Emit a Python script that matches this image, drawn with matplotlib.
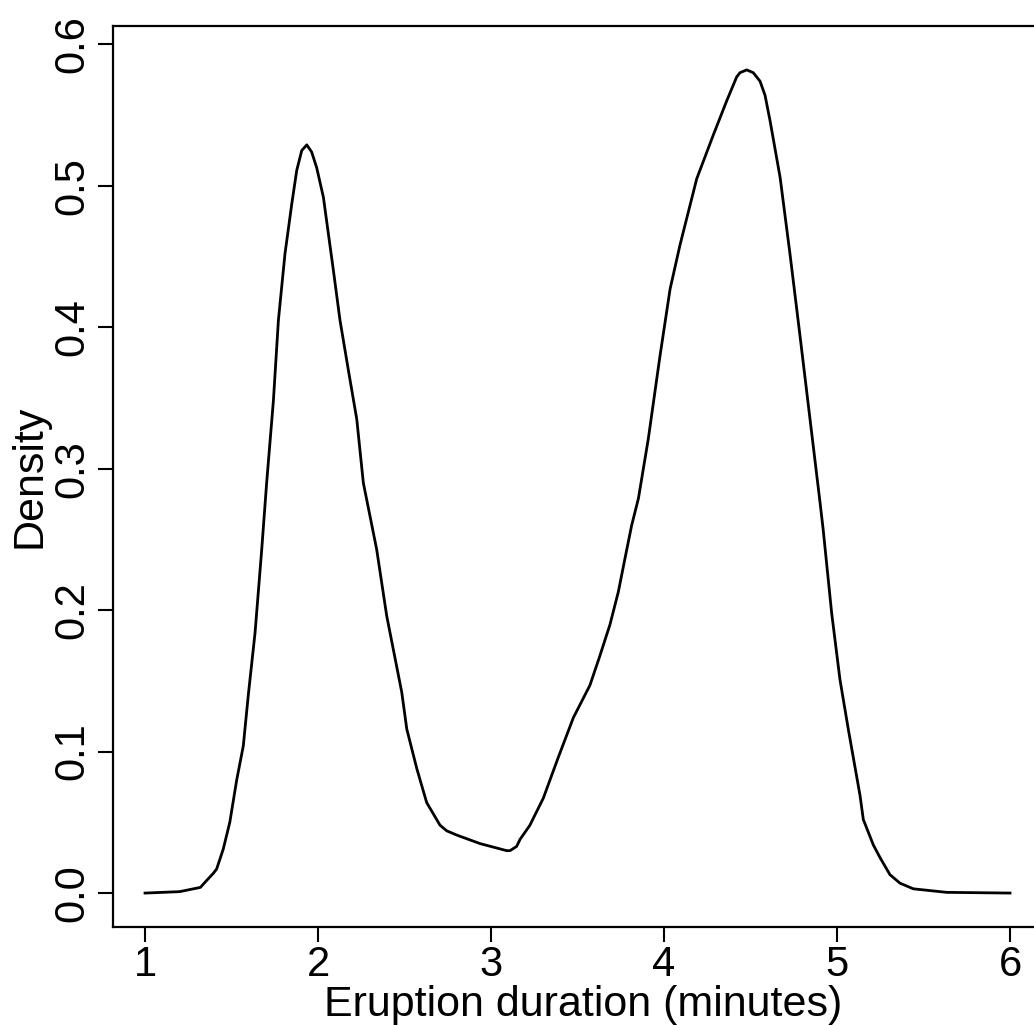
import matplotlib
matplotlib.use("Agg")
import matplotlib.pyplot as plt

# density curve (eruption duration in minutes, density)
duration = [1.0, 1.2, 1.32, 1.357, 1.395, 1.414, 1.452, 1.49, 1.53, 1.568, 1.597,
             1.636, 1.674, 1.703, 1.742, 1.771, 1.809, 1.848, 1.877, 1.906, 1.935,
             1.963, 1.992, 2.031, 2.06, 2.088, 2.127, 2.175, 2.224, 2.262, 2.339,
             2.397, 2.484, 2.513, 2.571, 2.628, 2.705, 2.744, 2.802, 2.936, 3.09,
             3.11, 3.148, 3.168, 3.225, 3.245, 3.302, 3.389, 3.476, 3.572, 3.63,
             3.688, 3.736, 3.775, 3.813, 3.852, 3.909, 3.977, 4.035, 4.092, 4.189,
             4.285, 4.362, 4.42, 4.439, 4.478, 4.516, 4.555, 4.584, 4.613, 4.671,
             4.728, 4.786, 4.844, 4.902, 4.92, 4.969, 5.017, 5.065, 5.133, 5.152,
             5.21, 5.249, 5.306, 5.364, 5.441, 5.634, 6.0]
density = [0.0, 0.001, 0.004, 0.009, 0.014, 0.017, 0.031, 0.050, 0.080, 0.104, 0.140,
           0.184, 0.242, 0.290, 0.348, 0.405, 0.452, 0.487, 0.511, 0.525, 0.529,
           0.524, 0.513, 0.492, 0.466, 0.441, 0.405, 0.370, 0.335, 0.290, 0.243,
           0.196, 0.142, 0.116, 0.088, 0.064, 0.048, 0.044, 0.041, 0.035, 0.030,
           0.030, 0.033, 0.038, 0.048, 0.053, 0.067, 0.096, 0.124, 0.147, 0.168,
           0.190, 0.213, 0.237, 0.260, 0.279, 0.321, 0.380, 0.427, 0.458, 0.505,
           0.536, 0.560, 0.577, 0.580, 0.582, 0.580, 0.574, 0.564, 0.546, 0.506,
           0.452, 0.394, 0.335, 0.276, 0.257, 0.198, 0.151, 0.116, 0.069, 0.052,
           0.034, 0.025, 0.013, 0.007, 0.003, 0.0005, 0.0]

x_ticks = [1, 2, 3, 4, 5, 6]
y_ticks = [0.0, 0.1, 0.2, 0.3, 0.4, 0.5, 0.6]

plt.rcParams['font.family'] = ['Liberation Sans', 'DejaVu Sans']

fig = plt.figure(figsize=(10.34, 10.25), dpi=100)
ax = fig.add_axes([0.1093, 0.0956, 0.91, 0.879])

ax.plot(duration, density, color='black', linewidth=2.0,
        solid_joinstyle='round')

ax.set_xlim(0.815, 6.254)
ax.set_ylim(-0.024, 0.613)
ax.set_xticks(x_ticks)
ax.set_xticklabels([str(t) for t in x_ticks])
ax.set_yticks(y_ticks)
ax.set_yticklabels(['%.1f' % t for t in y_ticks], rotation=90, va='center')

ax.tick_params(axis='both', direction='out', length=11, width=1.5, colors='black')
ax.tick_params(axis='x', labelsize=30, pad=2)
ax.tick_params(axis='y', labelsize=30, pad=4)
for side in ['left', 'bottom', 'top', 'right']:
    ax.spines[side].set_linewidth(1.6)

ax.set_xlabel('Eruption duration (minutes)', fontsize=31, labelpad=0)
ax.set_ylabel('Density', fontsize=31, labelpad=2)

fig.savefig('out.png', dpi=100)
